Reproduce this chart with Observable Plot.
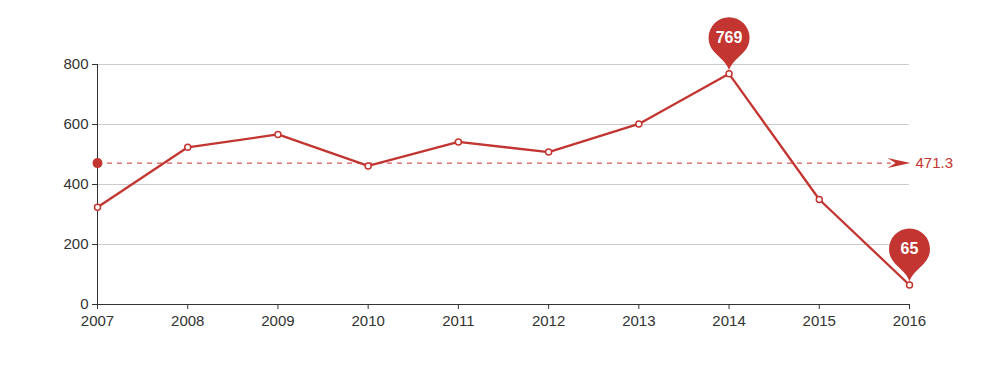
<!DOCTYPE html>
<html>
<head>
<meta charset="utf-8">
<script src="https://cdn.jsdelivr.net/npm/d3@7"></script>
<script src="https://cdn.jsdelivr.net/npm/@observablehq/plot@0.6"></script>
<style>
  html, body { margin: 0; padding: 0; background: #fff; }
  #chart { width: 990px; height: 378px; }
</style>
</head>
<body>
<div id="chart"></div>
<script>
const years = [2007, 2008, 2009, 2010, 2011, 2012, 2013, 2014, 2015, 2016];
const values = [324, 524, 567, 462, 542, 508, 602, 769, 350, 65];
const yTicks = [0, 200, 400, 600, 800];

const RED = "#c23531";
const data = years.map((year, i) => ({year, value: values[i]}));
const avg = d3.mean(values);
const maxIdx = d3.maxIndex(values);
const minIdx = d3.minIndex(values);
const extremes = [data[maxIdx], data[minIdx]];

// ECharts-like pin marker, anchored at the data point
const pinSymbol = {
  draw(ctx) {
    const R = 20.5, c = -36, tip = -3;
    const a1 = 45 * Math.PI / 180, a2 = 135 * Math.PI / 180;
    const rx = R * Math.cos(a1), ry = c + R * Math.sin(a1);
    ctx.moveTo(0, tip);
    ctx.bezierCurveTo(-1, -9, -7, -14, -rx, ry);
    ctx.arc(0, c, R, a2, a1 + 2 * Math.PI, false);
    ctx.bezierCurveTo(7, -14, 1, -9, 0, tip);
    ctx.closePath();
  }
};

// arrow head, tip at anchor
const arrowSymbol = {
  draw(ctx) {
    ctx.moveTo(1, 0);
    ctx.lineTo(-22, -5);
    ctx.lineTo(-14, 0);
    ctx.lineTo(-22, 5);
    ctx.closePath();
  }
};

const chart = Plot.plot({
  width: 990,
  height: 378,
  marginLeft: 97,
  marginRight: 81,
  marginTop: 64,
  marginBottom: 74,
  style: {
    fontFamily: "'Helvetica Neue', Helvetica, 'Liberation Sans', Arial, sans-serif",
    fontSize: "15px",
    color: "#333",
    background: "#fff"
  },
  x: {type: "linear", domain: [years[0], years[years.length - 1]]},
  y: {domain: [0, 800]},
  marks: [
    Plot.gridY(yTicks.filter(d => d > 0), {stroke: "#ccc", strokeOpacity: 1}),
    Plot.axisY({ticks: yTicks, tickSize: 5, tickPadding: 4, label: null}),
    Plot.axisX({ticks: years, tickFormat: d => String(d), tickSize: 5, tickPadding: 6, label: null}),
    Plot.ruleY([0], {stroke: "#333"}),
    Plot.ruleX([years[0]], {stroke: "#333"}),
    // average mark line
    Plot.ruleY([avg], {x1: years[0], x2: years[years.length - 1], insetRight: 18, stroke: RED, strokeWidth: 1, strokeDasharray: "5,5"}),
    Plot.dot([avg], {x: () => years[0], y: d => d, r: 5, fill: RED, stroke: "none"}),
    Plot.dot([avg], {x: () => years[years.length - 1], y: d => d, symbol: arrowSymbol, r: 5, fill: RED, stroke: "none"}),
    Plot.text([avg], {x: () => years[years.length - 1], y: d => d, text: d => d.toFixed(1), dx: 6, textAnchor: "start", fill: RED, fontSize: 15}),
    // series
    Plot.line(data, {x: "year", y: "value", stroke: RED, strokeWidth: 2.3}),
    Plot.dot(data, {x: "year", y: "value", r: 3, fill: "#fff", stroke: RED, strokeWidth: 1.5}),
    // max/min pins
    Plot.dot(extremes, {x: "year", y: "value", symbol: pinSymbol, r: 5, fill: RED, stroke: "none"}),
    Plot.text(extremes, {x: "year", y: "value", text: d => String(d.value), dy: -36, fill: "#fff", fontSize: 16, fontWeight: "bold"})
  ]
});

document.getElementById("chart").appendChild(chart);
</script>
</body>
</html>
